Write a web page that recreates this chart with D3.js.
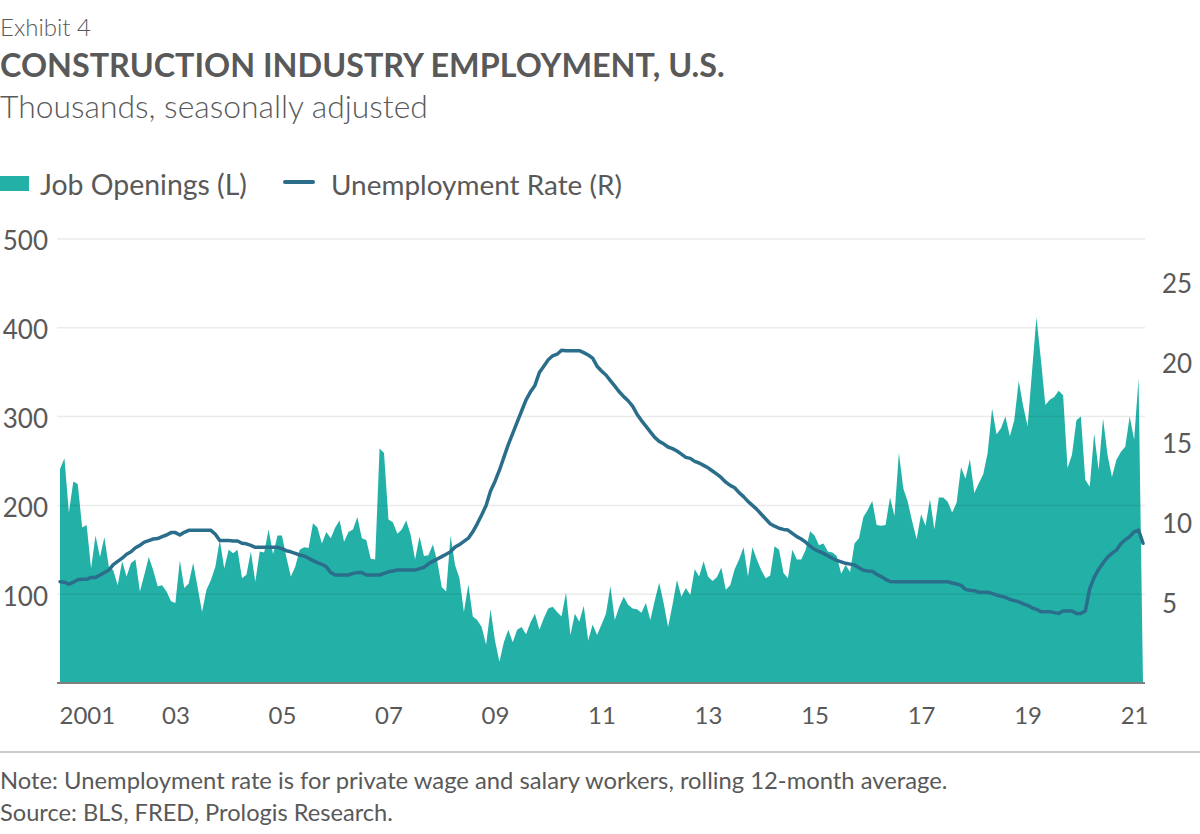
<!DOCTYPE html>
<html><head><meta charset="utf-8">
<script src="https://cdn.jsdelivr.net/npm/d3@7"></script>
<style>
body{margin:0;background:#fff}
svg{display:block}
text{font-family:Lato,'Noto Sans',sans-serif;fill:#595959}
</style>
</head><body>
<svg id="c" width="1200" height="834"></svg>
<script>
// Monthly series, Dec 2000 .. Apr 2021
const jobOpenings = [
241,253,192,227,224,175,178,129,166,142,
164,131,127,110,137,120,135,139,103,122,
142,127,109,110,103,92,90,138,107,112,
135,108,80,105,116,131,161,129,150,146,
150,118,122,148,114,148,147,173,145,166,
166,142,120,131,150,153,152,180,175,157,
170,163,175,183,159,170,173,187,163,161,
140,139,264,259,184,181,168,173,183,167,
139,165,143,144,156,137,108,103,166,133,
118,80,111,75,71,63,43,83,48,24,
46,60,46,60,63,55,68,78,60,73,
84,86,80,75,102,54,78,69,87,48,
66,54,66,78,109,71,86,97,88,84,
83,79,90,71,93,113,90,63,88,116,
97,107,99,128,120,137,120,115,119,130,
105,110,128,139,153,120,153,139,127,118,
121,154,150,124,118,150,139,139,150,171,
166,155,157,148,147,143,123,133,125,157,
163,187,195,205,178,177,178,209,188,259,
219,204,182,162,190,177,207,173,209,209,
204,192,203,243,230,252,214,225,235,259,
309,280,287,300,278,296,340,312,289,351,
412,364,313,319,322,329,324,242,257,296,
300,229,221,281,240,298,257,232,251,260,
266,300,274,343,0
];
const unemploymentRate = [
6.33,6.3,6.17,6.3,6.45,6.48,6.48,6.6,6.6,6.75,
6.9,7.06,7.4,7.6,7.8,8.05,8.2,8.45,8.6,8.8,
8.9,9.0,9.03,9.15,9.25,9.4,9.4,9.25,9.42,9.54,
9.54,9.54,9.54,9.54,9.54,9.3,8.9,8.9,8.9,8.88,
8.88,8.73,8.7,8.6,8.48,8.48,8.48,8.48,8.48,8.48,
8.4,8.27,8.2,8.1,8.0,7.94,7.8,7.65,7.52,7.42,
7.27,6.9,6.75,6.75,6.75,6.75,6.85,6.9,6.9,6.75,
6.75,6.75,6.75,6.85,6.95,7.0,7.06,7.06,7.06,7.06,
7.06,7.15,7.23,7.45,7.6,7.75,7.9,8.05,8.2,8.5,
8.65,8.85,9.05,9.45,9.95,10.5,11.1,12.0,12.6,13.3,
14.1,14.9,15.6,16.3,17.0,17.7,18.2,18.6,19.4,19.8,
20.2,20.45,20.55,20.8,20.77,20.77,20.77,20.77,20.65,20.5,
20.3,19.8,19.5,19.25,18.9,18.55,18.2,17.9,17.64,17.3,
16.8,16.4,16.05,15.7,15.35,15.1,14.95,14.75,14.65,14.5,
14.3,14.1,14.04,13.85,13.75,13.6,13.45,13.25,13.05,12.83,
12.55,12.35,12.2,11.9,11.65,11.35,11.1,10.85,10.55,10.25,
9.95,9.8,9.67,9.6,9.56,9.35,9.15,9.0,8.8,8.55,
8.35,8.22,8.1,7.95,7.8,7.66,7.57,7.48,7.43,7.38,
7.2,7.05,7.0,6.98,6.8,6.65,6.48,6.35,6.33,6.33,
6.33,6.33,6.33,6.33,6.33,6.33,6.33,6.33,6.33,6.33,
6.33,6.25,6.19,6.1,5.85,5.8,5.77,5.67,5.67,5.67,
5.6,5.5,5.42,5.35,5.22,5.15,5.08,4.95,4.85,4.7,
4.6,4.46,4.46,4.46,4.4,4.35,4.5,4.5,4.5,4.35,
4.35,4.5,5.9,6.6,7.1,7.5,7.85,8.1,8.3,8.7,
8.95,9.15,9.45,9.56,8.73
];
const xTickIndex = [2,26,50,74,98,122,146,170,194,218,242];
const xTickLabels = ["2001","03","05","07","09","11","13","15","17","19","21"];
const leftTicks = [100,200,300,400,500];
const rightTicks = [5,10,15,20,25];

const areaColor = "#23b1a7", lineColor = "#2a6e8b";
const svg = d3.select("#c");

const x = d3.scaleLinear().domain([0, jobOpenings.length - 1]).range([60, 1143]);
const yL = d3.scaleLinear().domain([0, 500]).range([683, 239]);
const yR = d3.scaleLinear().domain([0, 27.75]).range([683, 239]);

function fit(sel, target) {
  const w = sel.node().getComputedTextLength();
  const fs = parseFloat(sel.attr("font-size"));
  sel.attr("font-size", fs * target / w);
  return sel;
}

// Header
svg.append("text").attr("x", 0).attr("y", 36).attr("font-size", 24).attr("font-weight", 300).text("Exhibit 4");
fit(svg.append("text").attr("x", 0).attr("y", 77).attr("font-size", 32).attr("font-weight", 700).text("CONSTRUCTION INDUSTRY EMPLOYMENT, U.S."), 725);
fit(svg.append("text").attr("x", 0).attr("y", 118).attr("font-size", 30).attr("font-weight", 300).text("Thousands, seasonally adjusted"), 428);

// Legend
svg.append("rect").attr("x", 0).attr("y", 176).attr("width", 29).attr("height", 15).attr("fill", areaColor);
fit(svg.append("text").attr("x", 40).attr("y", 195).attr("font-size", 26).text("Job Openings (L)"), 207);
svg.append("line").attr("x1", 285).attr("x2", 313).attr("y1", 182).attr("y2", 182)
  .attr("stroke", lineColor).attr("stroke-width", 4).attr("stroke-linecap", "round");
fit(svg.append("text").attr("x", 331).attr("y", 195).attr("font-size", 26).text("Unemployment Rate (R)"), 291);

// Area
svg.append("path").datum(jobOpenings)
  .attr("fill", areaColor)
  .attr("d", d3.area().x((d, i) => x(i)).y0(yL(0)).y1(d => yL(d)));

// Gridlines (drawn over the area, semi-transparent)
svg.append("g").selectAll("line").data(leftTicks).join("line")
  .attr("x1", 57).attr("x2", 1145)
  .attr("y1", d => yL(d)).attr("y2", d => yL(d))
  .attr("stroke", "rgba(0,0,0,0.08)").attr("stroke-width", 1.5);

// Line
svg.append("path").datum(unemploymentRate)
  .attr("fill", "none").attr("stroke", lineColor).attr("stroke-width", 3.5)
  .attr("stroke-linejoin", "round").attr("stroke-linecap", "round")
  .attr("d", d3.line().x((d, i) => x(i)).y(d => yR(d)));

// Baseline
svg.append("line").attr("x1", 57).attr("x2", 1145).attr("y1", 683).attr("y2", 683)
  .attr("stroke", "#7f7f7f").attr("stroke-width", 2);

// Left axis
const gL = svg.append("g").attr("transform", "translate(48,0)")
  .call(d3.axisLeft(yL).tickValues(leftTicks).tickSize(0).tickPadding(0));
gL.select(".domain").remove();
gL.selectAll("text").attr("font-size", 26).attr("font-family", "Lato").attr("fill", "#595959").attr("dy", "0.42em");

// Right axis
const gR = svg.append("g").attr("transform", "translate(1162,0)")
  .call(d3.axisRight(yR).tickValues(rightTicks).tickSize(0).tickPadding(0));
gR.select(".domain").remove();
gR.selectAll("text").attr("font-size", 26).attr("font-family", "Lato").attr("fill", "#595959").attr("dy", "0.36em");

// Bottom axis
const gB = svg.append("g").attr("transform", "translate(0,683)")
  .call(d3.axisBottom(x).tickValues(xTickIndex).tickFormat((d, i) => xTickLabels[i]).tickSize(0).tickPadding(24));
gB.select(".domain").remove();
gB.selectAll("text").attr("font-size", 24).attr("font-family", "Lato").attr("fill", "#595959");
gB.select(".tick text").attr("text-anchor", "start").attr("x", x(0) - x(xTickIndex[0]) - 1);

// Footer
svg.append("line").attr("x1", 0).attr("x2", 1200).attr("y1", 752).attr("y2", 752)
  .attr("stroke", "#cccccc").attr("stroke-width", 2);
fit(svg.append("text").attr("x", 0).attr("y", 789).attr("font-size", 20)
  .text("Note: Unemployment rate is for private wage and salary workers, rolling 12-month average."), 948);
fit(svg.append("text").attr("x", 0).attr("y", 821).attr("font-size", 20)
  .text("Source: BLS, FRED, Prologis Research."), 393);
</script>
</body></html>
